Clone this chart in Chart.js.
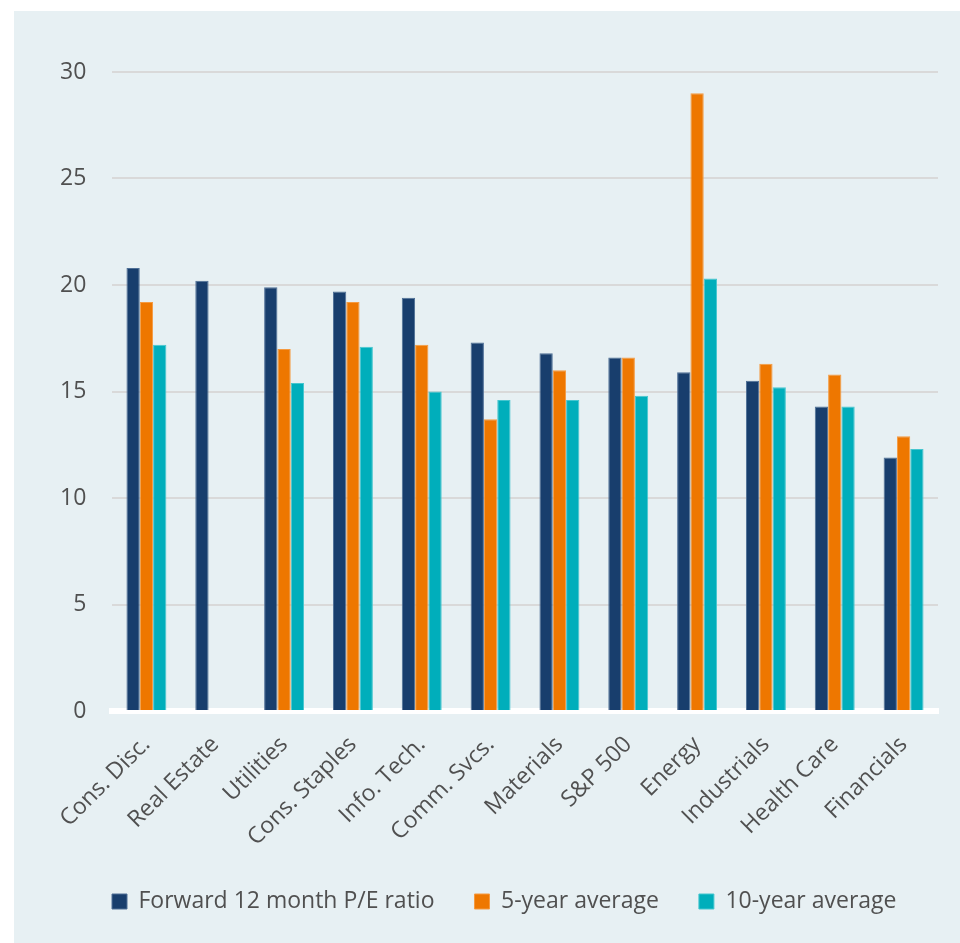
<!DOCTYPE html>
<html lang="en">

<head>
    <meta charset="UTF-8" />
    <title>Sector P/E ratios</title>
    <script src="https://cdn.jsdelivr.net/npm/chart.js"></script>
    <style>
        html, body { margin: 0; padding: 0; background: #ffffff; }
        .chart-container {
            position: absolute; left: 14px; top: 11px;
            width: 946px; height: 932px; background: #E7F0F3;
        }
    </style>
</head>

<body>
    <div class="chart-container">
        <canvas id="pe-chart"></canvas>
    </div>

    <script>
        const sectors = ['Cons. Disc.', 'Real Estate', 'Utilities', 'Cons. Staples', 'Info. Tech.', 'Comm. Svcs.',
            'Materials', 'S&P 500', 'Energy', 'Industrials', 'Health Care', 'Financials']
        const forwardPE = [20.8, 20.2, 19.9, 19.7, 19.4, 17.3, 16.8, 16.6, 15.9, 15.5, 14.3, 11.9]
        const avg5y = [19.2, null, 17.0, 19.2, 17.2, 13.7, 16.0, 16.6, 29.0, 16.3, 15.8, 12.9]
        const avg10y = [17.2, null, 15.4, 17.1, 15.0, 14.6, 14.6, 14.8, 20.3, 15.2, 14.3, 12.3]
        const yTicks = [0, 5, 10, 15, 20, 25, 30]

        const font = 'Open Sans'
        const textColor = '#505050'

        const ctx = document.getElementById('pe-chart').getContext('2d')
        const peChart = new Chart(ctx, {
            type: 'bar',
            data: {
                labels: sectors,
                datasets: [
                    { label: 'Forward 12 month P/E ratio', data: forwardPE, backgroundColor: '#183E6D', borderColor: '#4E6F96', borderWidth: 1 },
                    { label: '5-year average', data: avg5y, backgroundColor: '#EE7700', borderColor: '#F59A40', borderWidth: 1 },
                    { label: '10-year average', data: avg10y, backgroundColor: '#00AEBB', borderColor: '#45C6CF', borderWidth: 1 }
                ]
            },
            options: {
                responsive: true,
                maintainAspectRatio: false,
                animation: false,
                layout: { padding: { left: 58, right: 22, top: 61, bottom: 20 } },
                datasets: { bar: { categoryPercentage: 0.58, barPercentage: 1 } },
                scales: {
                    x: {
                        z: 1,
                        grid: { display: false },
                        border: { display: true, color: '#ffffff', width: 6 },
                        ticks: {
                            color: textColor, font: { family: font, size: 23 },
                            minRotation: 45, maxRotation: 45, padding: 12
                        },
                        afterFit(s) { s.height = 139 }
                    },
                    y: {
                        min: 0, max: 30,
                        afterBuildTicks(s) { s.ticks = yTicks.map(v => ({ value: v })) },
                        grid: {
                            drawTicks: false,
                            color: c => c.tick && c.tick.value === 0 ? '#ffffff' : '#D9D9D9',
                            lineWidth: 2
                        },
                        border: { display: false },
                        // mirrored so the labels are not clipped to the narrow axis box
                        ticks: {
                            mirror: true, crossAlign: 'far', padding: -52,
                            color: textColor, font: { family: font, size: 23 }
                        },
                        afterFit(s) { s.width = 40 }
                    }
                },
                plugins: {
                    tooltip: { enabled: false },
                    legend: {
                        position: 'bottom',
                        align: 'start',
                        labels: {
                            boxWidth: 15, boxHeight: 15, padding: 40,
                            color: textColor, font: { family: font, size: 23 }
                        }
                    }
                }
            }
        })
    </script>
</body>

</html>
